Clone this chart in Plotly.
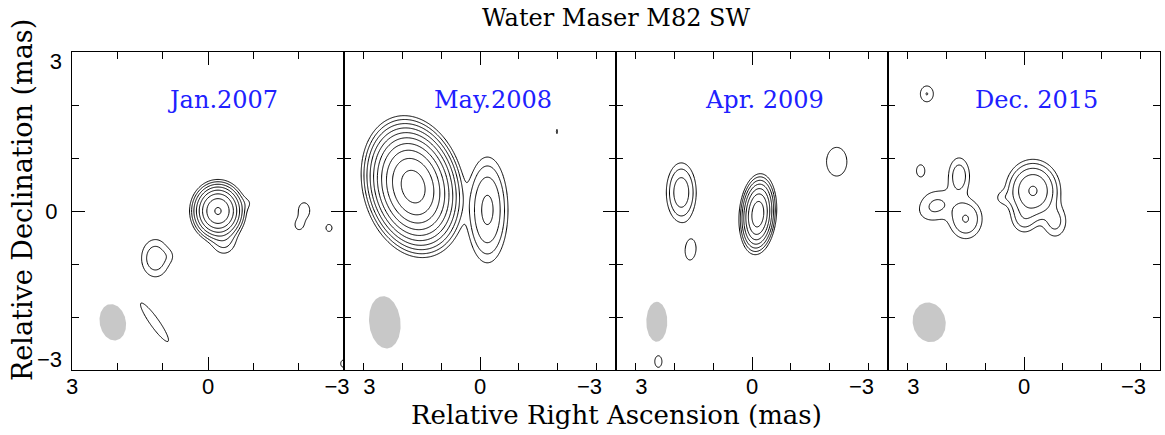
import numpy as np
import plotly.graph_objects as go

# ---------------------------------------------------------------------------
# Data: maser emission components per epoch (relative RA, relative Dec in mas,
# peak in units of the lowest contour, widths along/perp. to theta, theta deg)
# ---------------------------------------------------------------------------
epochs = ["Jan.2007", "May.2008", "Apr. 2009", "Dec. 2015"]
ra_half_range = [3.0, 3.5, 3.5, 3.5]

jan2007_components = [
    (-0.22, 0.00, 136.0, 0.20, 0.19, 0),
    (-0.35, -0.55, 2.5, 0.18, 0.18, 0),
    (-0.88, 0.15, 0.8, 0.12, 0.10, 0),
    (1.16, -0.89, 3.2, 0.20, 0.23, 0),
    (0.85, -0.85, 0.6, 0.10, 0.10, 0),
    (1.18, -2.10, 1.55, 0.50, 0.10, 50),
    (-2.12, 0.01, 1.3, 0.17, 0.20, 0),
    (-2.67, -0.32, 1.1, 0.15, 0.15, 0),
    (-2.00, -0.28, 1.03, 0.10, 0.10, 0),
    (-3.00, -2.88, 1.2, 0.12, 0.12, 0),
]

may2008_components = [
    (1.72, 0.46, 724.0, 0.40, 0.335, 45),
    (-0.19, 0.02, 9.5, 0.25, 0.47, 0),
    (-1.98, 1.50, 1.04, 0.06, 0.15, 0),
]

apr2009_components = [
    (-0.15, -0.06, 101.0, 0.158, 0.253, 8),
    (1.82, 0.35, 6.35, 0.20, 0.29, 0),
    (1.58, -0.73, 1.3, 0.19, 0.27, 10),
    (-2.18, 0.93, 1.5, 0.29, 0.30, 0),
    (2.41, -2.84, 1.1, 0.21, 0.25, 0),
]

dec2015_components = [
    (-0.23, 0.38, 17.0, 0.30, 0.25, 0),
    (0.00, -0.15, 2.5, 0.20, 0.17, 0),
    (-0.80, -0.20, 2.5, 0.20, 0.20, 0),
    (0.55, 0.25, 1.2, 0.15, 0.10, 0),
    (1.67, 0.66, 3.0, 0.18, 0.23, 0),
    (2.27, 0.10, 2.3, 0.33, 0.20, -13),
    (1.50, -0.15, 4.15, 0.25, 0.22, 0),
    (2.66, 0.76, 1.15, 0.20, 0.21, 0),
    (2.50, 2.21, 2.03, 0.14, 0.125, 0),
]

# restoring beams: centre RA, centre Dec, major, minor (mas), PA (deg, N through E)
beam_ra = [2.10, 2.45, 2.45, 2.44]
beam_dec = [-2.10, -2.10, -2.09, -2.10]
beam_major = [0.70, 1.00, 0.755, 0.86]
beam_minor = [0.57, 0.80, 0.54, 0.74]
beam_pa = [20, 15, 0, 75]

tick_values = [-3, -2, -1, 0, 1, 2, 3]

all_components = [jan2007_components, may2008_components,
                  apr2009_components, dec2015_components]

# ---------------------------------------------------------------------------
TEXT_FONT = "DejaVu Serif"
TICK_FONT = "Liberation Sans"
BLUE = "#2020ff"
GREY = "#c8c8c8"
MINUS = "\u2212"


def component_map(gx, gy, comps):
    total = np.zeros_like(gx)
    for x0, y0, peak, sa, sb, th in comps:
        t = np.deg2rad(th)
        dx, dy = gx - x0, gy - y0
        a = dx * np.cos(t) + dy * np.sin(t)
        b = -dx * np.sin(t) + dy * np.cos(t)
        total += peak * np.exp(-0.5 * ((a / sa) ** 2 + (b / sb) ** 2))
    return total


def beam_outline(ra, dec, bmaj, bmin, pa):
    t = np.linspace(0, 2 * np.pi, 121)
    p = np.deg2rad(pa)
    u = np.array([np.sin(p), np.cos(p)])
    v = np.array([np.cos(p), -np.sin(p)])
    xs = ra + 0.5 * bmaj * np.cos(t) * u[0] + 0.5 * bmin * np.sin(t) * v[0]
    ys = dec + 0.5 * bmaj * np.cos(t) * u[1] + 0.5 * bmin * np.sin(t) * v[1]
    return xs, ys


def placeholder(xname, yname):
    # empty trace so that an overlay axis gets drawn
    return go.Scatter(x=[None], y=[None], xaxis=xname, yaxis=yname,
                      mode="markers", hoverinfo="skip", showlegend=False)


fig = go.Figure()
layout = {}
n = len(epochs)
tickfont = dict(family=TICK_FONT, size=22, color="black")
bare = dict(showline=False, showgrid=False, zeroline=False, automargin=False)
axis_no = 2 * n + 1   # next free axis number for overlay axes

for i in range(n):
    k = i + 1
    half = ra_half_range[i]
    xname, yname = f"x{k}", f"y{k}"

    # beam
    bx, by = beam_outline(beam_ra[i], beam_dec[i], beam_major[i],
                          beam_minor[i], beam_pa[i])
    fig.add_trace(go.Scatter(x=bx, y=by, mode="lines", fill="toself",
                             fillcolor=GREY, line=dict(width=0, color=GREY),
                             xaxis=xname, yaxis=yname, hoverinfo="skip",
                             showlegend=False))

    # contour map, levels doubling from the lowest contour
    gxv = np.arange(-half - 0.1, half + 0.1001, 0.02)
    gyv = np.arange(-3.1, 3.1001, 0.02)
    GX, GY = np.meshgrid(gxv, gyv)
    flux = component_map(GX, GY, all_components[i])
    zlog = np.log2(np.maximum(flux, 2.0 ** -12)).astype(np.float32)
    fig.add_trace(go.Contour(
        x=gxv.round(3), y=gyv.round(3), z=zlog,
        xaxis=xname, yaxis=yname,
        contours=dict(start=0, end=12, size=1, coloring="none"),
        line=dict(color="black", width=1, smoothing=1),
        showscale=False, hoverinfo="skip"))

    common = dict(showgrid=False, zeroline=False, showline=True,
                  linecolor="black", linewidth=1, mirror="ticks",
                  ticks="inside", tickcolor="black", tickwidth=1,
                  automargin=False)
    layout[f"xaxis{k}"] = dict(
        domain=[i / n, (i + 1) / n], range=[half, -half], anchor=yname,
        tickmode="array", tickvals=tick_values,
        ticktext=["", "", "", "0", "", "", ""], ticklen=7,
        ticklabelstandoff=-3, tickfont=tickfont, **common)
    layout[f"yaxis{k}"] = dict(
        domain=[0, 1], range=[-3, 3], anchor=xname,
        tickmode="array", tickvals=tick_values,
        ticktext=["", "", "", "0", "", "", ""], ticklen=7,
        showticklabels=(i == 0), ticklabelstandoff=9,
        tickfont=tickfont, **common)

    # longer ticks marking the origin
    ox, oy = f"x{k + n}", f"y{k + n}"
    layout[f"xaxis{k + n}"] = dict(
        overlaying=xname, anchor=yname, range=[half, -half],
        tickmode="array", tickvals=[0], ticks="inside", ticklen=13,
        tickcolor="black", tickwidth=1, showticklabels=False,
        mirror="ticks", **bare)
    layout[f"yaxis{k + n}"] = dict(
        overlaying=yname, anchor=xname, range=[-3, 3],
        tickmode="array", tickvals=[0], ticks="inside", ticklen=13,
        tickcolor="black", tickwidth=1, showticklabels=False,
        mirror="ticks", **bare)
    fig.add_trace(placeholder(ox, yname))
    fig.add_trace(placeholder(xname, oy))

    # end labels of the RA axis (reversed axis: positive shift moves left)
    ends = [(-3, MINUS + "3", 7), (3, "3", 0 if i == 0 else -6)]
    for val, lab, shift in ends:
        layout[f"xaxis{axis_no}"] = dict(
            overlaying=xname, anchor=yname, range=[half, -half],
            tickmode="array", tickvals=[val], ticktext=[lab], ticks="",
            ticklabelstandoff=1, ticklabelshift=shift, tickfont=tickfont,
            **bare)
        fig.add_trace(placeholder(f"x{axis_no}", yname))
        axis_no += 1

    fig.add_annotation(x=-0.33, y=2.1, xref=xname, yref=yname,
                       text=epochs[i], showarrow=False,
                       font=dict(family=TEXT_FONT, size=24, color=BLUE))

# end labels on the declination axis sit just inside the frame
for val, lab, pos, shift in [(3, "3", "outside bottom", -6),
                             (-3, MINUS + "3", "outside top", 5)]:
    layout[f"yaxis{axis_no}"] = dict(
        overlaying="y1", anchor="x1", range=[-3, 3], tickmode="array",
        tickvals=[val], ticktext=[lab], ticks="", ticklabelposition=pos,
        ticklabelstandoff=9, ticklabelshift=shift, tickfont=tickfont, **bare)
    fig.add_trace(placeholder("x1", f"y{axis_no}"))
    axis_no += 1

fig.update_layout(**layout)

fig.add_annotation(text="Water Maser M82 SW", x=0.5, y=1, xref="paper",
                   yref="paper", xanchor="center", yanchor="middle",
                   yshift=34, showarrow=False,
                   font=dict(family=TEXT_FONT, size=24, color="black"))
fig.add_annotation(text="Relative Right Ascension (mas)", x=0.5, y=0,
                   xref="paper", yref="paper", xanchor="center",
                   yanchor="middle", yshift=-45, showarrow=False,
                   font=dict(family=TEXT_FONT, size=26, color="black"))
fig.add_annotation(text="Relative Declination (mas)", x=0, y=0.5,
                   xref="paper", yref="paper", xanchor="center",
                   yanchor="middle", xshift=-50, yshift=11,
                   textangle=-90, showarrow=False,
                   font=dict(family=TEXT_FONT, size=27, color="black"))

fig.update_layout(width=1165, height=435, showlegend=False,
                  margin=dict(l=72, r=5, t=52, b=65),
                  paper_bgcolor="white", plot_bgcolor="white")

fig.write_html("out.html")
